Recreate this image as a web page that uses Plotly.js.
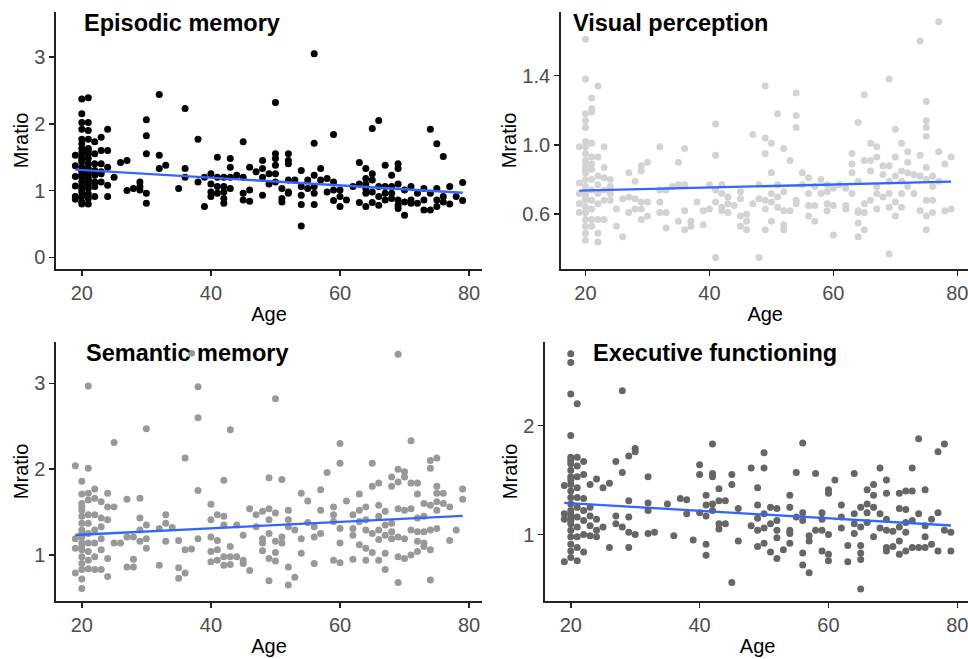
<!DOCTYPE html>
<html><head><meta charset="utf-8">
<script src="https://cdn.plot.ly/plotly-3.0.1.min.js"></script>
<style>html,body{margin:0;padding:0;background:#fff;overflow:hidden}#chart{width:984px;height:659px}</style>
</head><body><div id="chart"></div>
<script>
// ---------- Data ----------
const panelTitles = ["Episodic memory", "Visual perception", "Semantic memory", "Executive functioning"];
const xTicks = [20, 40, 60, 80];

// Episodic memory: ages and Mratio values per age
const epAges = [19,20,21,22,23,24,25,26,27,28,29,30,32,33,35,36,38,39,40,41,42,43,44,45,46,47,48,49,50,51,52,53,54,55,56,57,58,59,60,61,62,63,64,65,66,67,68,69,70,71,72,73,74,75,76,77,78,79];
const epValues = [
 [1.53,1.37,1.21,1.07,0.91,0.87],
 [2.37,2.15,2.02,1.92,1.77,1.70,1.63,1.57,1.50,1.43,1.35,1.28,1.20,1.13,1.06,0.98,0.91,0.83,0.80,1.46,1.24,1.02],
 [2.39,2.02,1.90,1.77,1.63,1.55,1.48,1.40,1.33,1.25,1.18,1.10,1.03,0.95,0.88,0.80,1.60,1.29,1.14],
 [1.73,1.55,1.40,1.30,1.23,1.13,1.06,0.91],
 [1.80,1.60,1.40,1.28,1.25,1.13],
 [1.92,1.60,1.35,1.08,0.91],
 [1.20],[1.42],[1.45,1.00],[1.03],[1.13,1.06,1.01],
 [2.06,1.82,1.55,0.96,0.81],
 [2.44,1.53,1.33],[1.38],[1.03],[2.23,1.33,1.20],[1.77,1.13],[1.20,0.76],
 [1.25,1.10,0.98,0.91],[1.50,1.20,1.06,0.96],[1.20,1.06,0.98,0.88,0.81],[1.48,1.35,1.20,1.03],
 [1.23],[1.73,1.20,0.96,0.86],[1.35,1.01,0.84],[1.28],[1.45,1.33,1.20,0.93],[1.25,1.10],
 [2.32,1.55,1.48,1.38,1.25,1.13],[1.03,0.88,0.83],[1.55,1.45,1.40,1.16,0.98,0.96],[1.16],
 [1.30,1.06,0.93,0.79,0.47],[1.16,1.03],[3.05,1.71,1.23,1.06,0.96,0.79],[1.33,1.16],[1.18,0.98],
 [1.84,1.13,1.01,0.85],[1.01,0.91,0.76],[0.86],[1.06],[1.42,1.10,0.82],[1.33,1.18,1.10,1.03,0.96,0.76],
 [1.93,1.25,1.16,0.98,0.82],[2.05,1.06,0.91,0.78],[1.38,1.06,0.96,0.86],[1.23,1.06,0.96,0.88],
 [1.40,1.33,1.10,0.86,0.78,0.73],[1.01,0.83,0.63],[1.06,0.86,0.81],[0.96,0.81],[1.03,0.86,0.71],
 [1.92,0.96,0.71],[1.70,1.03,0.86,0.76],[1.51,0.91,0.83],[1.06,0.80],[0.91],[1.12,0.85]
];

// Visual perception
const vpAges = [19,20,21,22,23,24,25,26,27,28,29,30,32,33,34,35,36,37,38,39,40,41,42,43,44,45,46,47,48,49,50,51,52,53,54,55,56,57,58,59,60,61,62,63,64,65,66,67,68,69,70,71,72,73,74,75,76,77,78,79];
const vpValues = [
 [0.99,0.78,0.72,0.66,0.61],
 [1.61,1.38,1.18,1.14,1.10,1.02,0.99,0.95,0.91,0.88,0.84,0.80,0.76,0.72,0.68,0.64,0.61,0.57,0.53,0.49,0.45,0.86,0.70],
 [1.27,1.21,1.19,1.01,0.93,0.89,0.86,0.80,0.74,0.68,0.63,0.57,0.53],
 [1.34,0.93,0.82,0.77,0.72,0.66,0.57,0.49,0.44],
 [0.99,0.87,0.81,0.74,0.68,0.57],
 [0.80,0.76,0.72,0.68],
 [0.63,0.53],[0.69,0.47],[0.84,0.70,0.61],[0.79,0.69,0.63],[0.88,0.85,0.67,0.63,0.57],[0.90,0.67,0.59],
 [0.99,0.74,0.67,0.61],[0.74,0.61,0.52],[0.76],[0.90,0.77,0.56],[0.98,0.77,0.62,0.51],[0.56,0.53],[0.67],[0.62,0.54],
 [0.77,0.63],[1.12,0.94,0.74,0.67,0.35],[0.77,0.72,0.64,0.62],[0.70,0.66,0.61],[0.65],[0.73,0.69,0.59,0.53],
 [0.60,0.56,0.51],[1.06,0.66],[0.77,0.69,0.35],[1.34,1.04,0.95,0.68,0.63,0.51],[1.01,0.84,0.72,0.67,0.56],
 [1.18,0.77,0.70,0.64],[0.98,0.73,0.62,0.54,0.51],[0.91,0.62],[1.30,1.17,1.10,0.68,0.66],[0.84,0.77],
 [0.81,0.72,0.65,0.59],[0.76,0.65,0.56],[0.80,0.72],[0.77,0.73,0.66,0.62],[0.75,0.65,0.48],[0.77],
 [0.75,0.65,0.63],[0.95,0.89,0.84,0.72],[1.13,0.79,0.62,0.61,0.55,0.47],[1.29,0.91,0.66,0.61,0.51],
 [1.01,0.91,0.85,0.68],[0.99,0.93,0.76,0.72,0.63],[0.88,0.83,0.70],[1.38,0.88,0.79,0.72,0.64,0.37],
 [1.09,0.93,0.82,0.67,0.59],[1.01,0.85,0.79,0.72,0.64],[0.96,0.90,0.84,0.76],[0.83,0.72],
 [1.60,0.94,0.82,0.62],[1.25,1.14,1.10,1.05,0.87,0.80,0.68,0.59,0.51],[0.82,0.76,0.68,0.61],
 [1.71,0.96,0.79],[0.89,0.62],[0.93,0.63]
];

// Semantic memory
const smAges = [19,20,21,22,23,24,25,26,27,28,29,30,32,33,34,35,36,37,38,40,41,42,43,44,45,46,47,48,49,50,51,52,53,54,55,56,57,58,59,60,61,62,63,64,65,66,67,68,69,70,71,72,73,74,75,76,77,78,79];
const smValues = [
 [2.04,1.19,1.08,0.79],
 [1.86,1.71,1.60,1.52,1.45,1.37,1.29,1.21,1.14,1.06,0.98,0.90,0.83,0.72,0.61,1.56,1.25,1.10],
 [2.97,2.01,1.72,1.64,1.47,1.37,1.25,1.14,1.04,0.94,0.84],
 [1.77,1.66,1.47,1.29,1.14,0.98,0.83],
 [1.62,1.43,1.33,1.19,1.06,0.83],
 [1.72,1.56,1.41,0.96,0.75],
 [2.31,1.56,1.14],[1.14],[1.65,1.21,0.86],[1.21,0.95,0.86],[1.66,1.43,1.29,1.16],[2.47,1.35,1.19,1.08],
 [1.31,0.88],[1.47,1.37,1.16],[1.32],[1.17,0.85,0.73],[2.13,1.06,0.79],[3.35,1.07],[2.96,2.60,1.75,1.19],
 [1.59,1.41,1.21,1.04,0.92],[1.47,1.17,1.06,0.94],[1.87,1.45,1.35,0.98,0.88],[2.46,1.10,0.98,0.89],
 [1.35,0.98],[1.23,0.94,0.90],[1.54,0.82],[1.47,1.33],[1.51,1.19,1.14,1.05],[1.90,1.54,1.41,1.25,0.96,0.70],
 [2.82,1.49,1.16,1.03,0.93],[1.88,1.21,1.14],[1.52,1.41,1.33,0.86,0.65],[1.29,0.74],[1.72,1.19,1.02],
 [1.63,1.38],[1.33,1.21,0.90],[1.76,1.52,1.25],[1.96],[1.56,1.47,1.39,0.94],[2.30,2.07,1.31,1.14,0.91],
 [1.63],[1.47,1.31,1.23,0.95],[1.71,1.52,1.39,1.12],[1.56,1.41,1.29,1.08,0.94],[2.07,1.80,1.25,1.03],
 [1.84,1.58,1.45,1.29,1.18,0.94],[1.51,1.35,1.23,1.02,0.83],[1.91,1.80,1.37,1.27,1.19],
 [3.34,2.00,1.85,1.54,1.21,0.98,0.68],[1.97,1.91,1.52,1.19,0.96],[2.33,1.84,1.54,1.29,1.00],
 [1.84,1.71,1.43,1.27,1.16,1.04],[1.60,1.45,1.27,1.14,1.10],[2.10,2.01,1.58,1.29,1.06,0.71],
 [2.13,1.80,1.72,1.62,1.52,1.31],[1.72,1.60],[1.56,1.17],[1.29],[1.77,1.65]
];

// Executive functioning
const efAges = [19,20,21,22,23,24,25,26,27,28,29,30,32,33,35,36,37,38,39,40,41,42,43,44,45,46,48,49,50,51,52,53,54,55,56,57,58,59,60,61,62,63,64,65,66,67,68,69,70,71,72,73,74,75,76,77,78,79];
const efValues = [
 [1.45,1.19,1.14,0.75],
 [2.66,2.58,2.29,1.91,1.71,1.65,1.59,1.53,1.46,1.40,1.34,1.28,1.22,1.16,1.10,1.04,0.98,0.91,0.85,0.79,1.68,1.50,1.19,1.13],
 [2.20,1.71,1.63,1.53,1.43,1.34,1.25,1.16,1.07,0.98,0.88,0.76],
 [1.67,1.55,1.33,1.22,1.13,1.00,0.84],
 [1.46,1.25,1.17,1.08,0.99],
 [1.51,1.14,1.04,0.98],
 [1.43,1.07],[1.47,0.88],[1.67,1.17,1.10],[2.32,1.57,1.07],[1.72,1.31,1.16,1.02,0.88],[1.79,1.76,1.00],
 [1.53,1.29,1.22,1.01],[1.02],[1.28],[0.99],[1.33],[1.32,1.19],[0.95],[1.64,1.55,1.20],
 [1.36,1.27,1.17,0.91,0.81],[1.83,1.56,1.53,1.28,1.22],[1.42,1.31,1.10,1.05],[1.31,1.10],[1.55,1.46,0.56],
 [1.24,0.94],[1.61,1.08],[1.43,1.27,1.15,1.04,0.89],[1.75,1.61,1.19,1.06,0.92],[1.25,1.10,0.84],
 [1.24,1.13,1.04,0.97,0.78],[0.86],[1.36,1.25,1.04,1.01,0.92],[1.57,1.16],[1.84,1.20,1.13,0.83,0.72],
 [0.99,0.94,0.65],[1.56,1.04],[1.20,1.14,1.04,0.85],[1.41,1.38,1.00,0.82,0.76],[1.50],[1.27,1.16,1.06],
 [0.90,0.75],[1.56,1.19,1.10,1.01],[1.25,1.07,0.90,0.83,0.77,0.50],[1.41,1.28,1.20,1.11],[1.46,1.36,1.25,0.98],
 [1.61,1.19,1.06],[1.50,1.38,1.14,1.04,0.88,0.85],[1.03,0.89],[1.38,1.24,1.07,0.94,0.82],[1.40,1.23,1.11,1.02,0.85],
 [1.61,1.40,1.13,0.88],[1.88,1.19,0.88],[1.41,1.08,0.98,0.88],[1.14,0.91],[1.76,1.20,0.85],[1.83,1.04],[1.02,0.85]
];

// Linear-fit line endpoints
const fitAges = [19, 79];
const epFit = [1.315, 0.967];
const vpFit = [0.736, 0.788];
const smFit = [1.233, 1.455];
const efFit = [1.291, 1.083];

const pointColours = ["#000000", "#D3D3D3", "#999999", "#666666"];
const fitColour = "#3366FF";

// ---------- Build figure ----------
function flatten(ages, vals) {
  const x = [], y = [];
  ages.forEach((a, i) => vals[i].forEach(v => { x.push(a); y.push(v); }));
  return {x, y};
}
const panels = [
  {ages: epAges, vals: epValues, fit: epFit},
  {ages: vpAges, vals: vpValues, fit: vpFit},
  {ages: smAges, vals: smValues, fit: smFit},
  {ages: efAges, vals: efValues, fit: efFit}
];
const font = "Liberation Sans, Arial, sans-serif";
const traces = [];
panels.forEach((p, i) => {
  const d = flatten(p.ages, p.vals);
  const xa = i === 0 ? "x" : "x" + (i + 1);
  const ya = i === 0 ? "y" : "y" + (i + 1);
  traces.push({type: "scatter", mode: "markers", x: d.x, y: d.y, xaxis: xa, yaxis: ya,
    marker: {color: pointColours[i], size: 7, line: {width: 0}}, hoverinfo: "x+y", showlegend: false});
  traces.push({type: "scatter", mode: "lines", x: fitAges, y: p.fit, xaxis: xa, yaxis: ya,
    line: {color: fitColour, width: 2.3}, hoverinfo: "skip", showlegend: false});
});

function ax(extra) {
  return Object.assign({
    showgrid: false, zeroline: false, showline: true, linecolor: "#222222", linewidth: 1.6,
    ticks: "outside", ticklen: 5, tickwidth: 1.6, tickcolor: "#222222",
    tickfont: {family: font, size: 20, color: "#4D4D4D"}, automargin: false, fixedrange: true
  }, extra);
}
const xTitle = {text: "Age", font: {family: font, size: 20, color: "#000"}, standoff: 4};
const yTitle = {text: "Mratio", font: {family: font, size: 20, color: "#000"}, standoff: 0};

// The chart is slightly wider than the window: the right-hand panels run off the edge as in the reference
const W = 984;
const px = v => v / W;

const layout = {
  width: W, height: 659, margin: {l: 0, r: 0, t: 0, b: 0},
  paper_bgcolor: "#fff", plot_bgcolor: "#fff", showlegend: false,
  xaxis:  ax({domain: [px(56), px(482)], range: [16, 82], tickvals: xTicks, anchor: "y", title: xTitle}),
  yaxis:  ax({domain: [0.5918, 0.9818], range: [-0.175, 3.675], tickvals: [0, 1, 2, 3], anchor: "x", title: yTitle}),
  xaxis2: ax({domain: [px(560.7), px(969.7)], range: [16, 82], tickvals: xTicks, anchor: "y2", title: xTitle}),
  yaxis2: ax({domain: [0.5918, 0.9818], range: [0.284, 1.767], tickvals: [0.6, 1.0, 1.4], ticktext: ["0.6", "1.0", "1.4"], anchor: "x2", title: yTitle}),
  xaxis3: ax({domain: [px(56), px(482)], range: [16, 82], tickvals: xTicks, anchor: "y3", title: xTitle}),
  yaxis3: ax({domain: [0.088, 0.4815], range: [0.464, 3.485], tickvals: [1, 2, 3], anchor: "x3", title: yTitle}),
  xaxis4: ax({domain: [px(545), px(970.2)], range: [16, 82], tickvals: xTicks, anchor: "y4", title: xTitle}),
  yaxis4: ax({domain: [0.088, 0.4815], range: [0.39, 2.77], tickvals: [1, 2], anchor: "x4", title: yTitle}),
  annotations: [
    {x: px(82), y: 0.9651},
    {x: px(571.3), y: 0.9651},
    {x: px(84), y: 0.4643},
    {x: px(590.7), y: 0.4643}
  ].map((pos, i) => ({
    text: "<b>" + panelTitles[i] + "</b>", xref: "paper", yref: "paper", x: pos.x, y: pos.y,
    xanchor: "left", yanchor: "middle", showarrow: false,
    font: {family: font, size: 23.5, color: "#000"}
  }))
};

Plotly.newPlot("chart", traces, layout, {displayModeBar: false, staticPlot: true});
</script></body></html>
